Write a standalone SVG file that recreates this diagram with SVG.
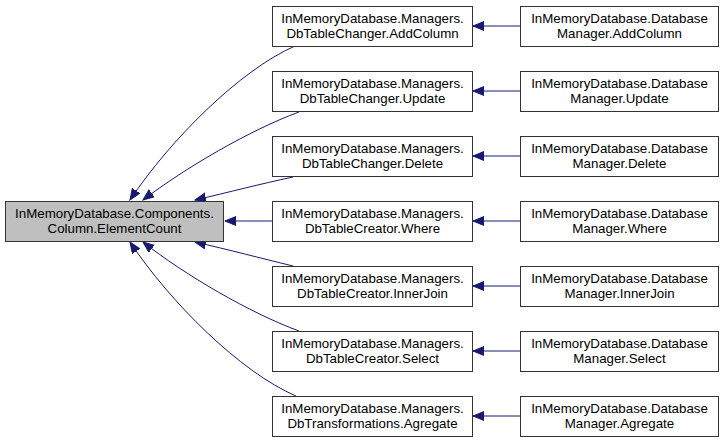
<svg xmlns="http://www.w3.org/2000/svg" width="723" height="444" viewBox="0 0 723 444">
<style>
.n rect{fill:#ffffff;stroke:#333333;stroke-width:1}
.n.h rect{fill:#bfbfbf}
text{font-family:"Liberation Sans",Arial,sans-serif;font-size:13.3px;fill:#000;text-anchor:middle}
.e path{fill:none;stroke:#191970;stroke-width:1}
</style>
<defs>
<marker id="ah" markerUnits="userSpaceOnUse" markerWidth="12" markerHeight="10" refX="11" refY="4.5" orient="auto">
<polygon points="0,0 11,4.5 0,9" fill="#191970" stroke="#191970"/>
</marker>
</defs>
<rect width="723" height="444" fill="#ffffff"/>
<g id="connectors" class="e">
<path d="M295,46 C240,70 170,140 130,200" marker-end="url(#ah)"/>
<path d="M299,112 C250,130 185,168 143,200" marker-end="url(#ah)"/>
<path d="M293,177 C260,184 230,192 195,200" marker-end="url(#ah)"/>
<path d="M272,221 L225,221" marker-end="url(#ah)"/>
<path d="M293,266 C260,258 230,250 195,242" marker-end="url(#ah)"/>
<path d="M299,331 C250,313 185,275 143,242" marker-end="url(#ah)"/>
<path d="M296,396 C240,372 170,302 130,242" marker-end="url(#ah)"/>
<path d="M520,26 L473,26" marker-end="url(#ah)"/>
<path d="M520,91 L473,91" marker-end="url(#ah)"/>
<path d="M520,156 L473,156" marker-end="url(#ah)"/>
<path d="M520,221 L473,221" marker-end="url(#ah)"/>
<path d="M520,286 L473,286" marker-end="url(#ah)"/>
<path d="M520,351 L473,351" marker-end="url(#ah)"/>
<path d="M520,416 L473,416" marker-end="url(#ah)"/>
</g>
<g id="n0" class="n h"><rect x="5.5" y="201.5" width="218" height="40"/><text x="114.5" y="217.5">InMemoryDatabase.Components.</text><text x="114.5" y="232.5">Column.ElementCount</text></g>
<g id="m0" class="n"><rect x="272.5" y="6.5" width="200" height="40"/><text x="372.5" y="22.5">InMemoryDatabase.Managers.</text><text x="372.5" y="37.5">DbTableChanger.AddColumn</text></g>
<g id="m1" class="n"><rect x="272.5" y="71.5" width="200" height="40"/><text x="372.5" y="87.5">InMemoryDatabase.Managers.</text><text x="372.5" y="102.5">DbTableChanger.Update</text></g>
<g id="m2" class="n"><rect x="272.5" y="136.5" width="200" height="40"/><text x="372.5" y="152.5">InMemoryDatabase.Managers.</text><text x="372.5" y="167.5">DbTableChanger.Delete</text></g>
<g id="m3" class="n"><rect x="272.5" y="201.5" width="200" height="40"/><text x="372.5" y="217.5">InMemoryDatabase.Managers.</text><text x="372.5" y="232.5">DbTableCreator.Where</text></g>
<g id="m4" class="n"><rect x="272.5" y="266.5" width="200" height="40"/><text x="372.5" y="282.5">InMemoryDatabase.Managers.</text><text x="372.5" y="297.5">DbTableCreator.InnerJoin</text></g>
<g id="m5" class="n"><rect x="272.5" y="331.5" width="200" height="40"/><text x="372.5" y="347.5">InMemoryDatabase.Managers.</text><text x="372.5" y="362.5">DbTableCreator.Select</text></g>
<g id="m6" class="n"><rect x="272.5" y="396.5" width="200" height="40"/><text x="372.5" y="412.5">InMemoryDatabase.Managers.</text><text x="372.5" y="427.5">DbTransformations.Agregate</text></g>
<g id="r0" class="n"><rect x="520.5" y="6.5" width="198" height="40"/><text x="619.5" y="22.5">InMemoryDatabase.Database</text><text x="619.5" y="37.5">Manager.AddColumn</text></g>
<g id="r1" class="n"><rect x="520.5" y="71.5" width="198" height="40"/><text x="619.5" y="87.5">InMemoryDatabase.Database</text><text x="619.5" y="102.5">Manager.Update</text></g>
<g id="r2" class="n"><rect x="520.5" y="136.5" width="198" height="40"/><text x="619.5" y="152.5">InMemoryDatabase.Database</text><text x="619.5" y="167.5">Manager.Delete</text></g>
<g id="r3" class="n"><rect x="520.5" y="201.5" width="198" height="40"/><text x="619.5" y="217.5">InMemoryDatabase.Database</text><text x="619.5" y="232.5">Manager.Where</text></g>
<g id="r4" class="n"><rect x="520.5" y="266.5" width="198" height="40"/><text x="619.5" y="282.5">InMemoryDatabase.Database</text><text x="619.5" y="297.5">Manager.InnerJoin</text></g>
<g id="r5" class="n"><rect x="520.5" y="331.5" width="198" height="40"/><text x="619.5" y="347.5">InMemoryDatabase.Database</text><text x="619.5" y="362.5">Manager.Select</text></g>
<g id="r6" class="n"><rect x="520.5" y="396.5" width="198" height="40"/><text x="619.5" y="412.5">InMemoryDatabase.Database</text><text x="619.5" y="427.5">Manager.Agregate</text></g>
</svg>
